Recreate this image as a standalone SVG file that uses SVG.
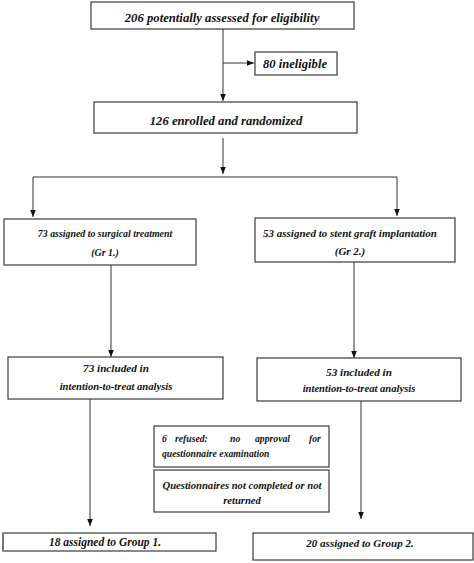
<svg xmlns="http://www.w3.org/2000/svg" width="474" height="563" viewBox="0 0 474 563">
<style>
  .box { fill: #ffffff; stroke: #3a3a3a; stroke-width: 1.2; }
  .t { font-family: "Liberation Serif", "Times New Roman", serif; font-weight: bold; font-style: italic; fill: #111111; text-anchor: middle; }
  .s { text-anchor: start; }
  .ln { fill: none; stroke: #333333; stroke-width: 1; }
  .ar { fill: none; stroke: #333333; stroke-width: 1; marker-end: url(#ah); }
</style>
<defs>
  <marker id="ah" viewBox="0 0 10 10" refX="10" refY="5" markerWidth="7" markerHeight="7" markerUnits="userSpaceOnUse" orient="auto">
    <path d="M0,1 L10,5 L0,9 z" fill="#111111"/>
  </marker>
</defs>
<rect width="474" height="563" fill="#ffffff"/>

<g id="connectors">
  <path class="ar" d="M223,29 V101"/>
  <path class="ar" d="M223,63 H254"/>
  <path class="ar" d="M223,138 V174"/>
  <path class="ln" d="M33,177 H397"/>
  <path class="ar" d="M33,177 V217"/>
  <path class="ar" d="M397,177 V216"/>
  <path class="ar" d="M111,265 V357"/>
  <path class="ar" d="M354,262 V358"/>
  <path class="ar" d="M90,399 V526"/>
  <path class="ar" d="M361,401 V519"/>
</g>

<g id="n1">
  <rect class="box" x="91" y="2" width="263" height="27"/>
  <text class="t" x="222" y="22" font-size="12.7">206 potentially assessed for eligibility</text>
</g>
<g id="n2">
  <rect class="box" x="255" y="52" width="82" height="23"/>
  <text class="t" x="295" y="68" font-size="12.6">80 ineligible</text>
</g>
<g id="n3">
  <rect class="box" x="94" y="102" width="263" height="31"/>
  <text class="t" x="226" y="125" font-size="12.7">126 enrolled and randomized</text>
</g>
<g id="n4">
  <rect class="box" x="4" y="219" width="192" height="46"/>
  <text class="t" x="105" y="237" font-size="9.9">73 assigned to surgical treatment</text>
  <text class="t" x="105" y="256" font-size="9.9">(Gr 1.)</text>
</g>
<g id="n5">
  <rect class="box" x="255" y="218" width="200" height="44"/>
  <text class="t" x="350" y="237" font-size="11">53 assigned to stent graft implantation</text>
  <text class="t" x="350" y="255" font-size="11">(Gr 2.)</text>
</g>
<g id="n6">
  <rect class="box" x="8" y="357" width="215" height="42"/>
  <text class="t" x="116" y="372" font-size="11.2">73 included in</text>
  <text class="t" x="116" y="390" font-size="10.6">intention-to-treat analysis</text>
</g>
<g id="n7">
  <rect class="box" x="257" y="358" width="204" height="43"/>
  <text class="t" x="359" y="376" font-size="11.2">53 included in</text>
  <text class="t" x="359" y="392" font-size="10.6">intention-to-treat analysis</text>
</g>
<g id="n8">
  <rect class="box" x="154" y="426" width="175" height="41"/>
  <text class="t s" y="442" font-size="9.7"><tspan x="162">6</tspan> <tspan x="175">refused:</tspan> <tspan x="230">no</tspan> <tspan x="255">approval</tspan> <tspan x="309">for</tspan></text>
  <text class="t s" x="162" y="457" font-size="9.7">questionnaire examination</text>
</g>
<g id="n9">
  <rect class="box" x="154" y="470" width="175" height="42"/>
  <text class="t" x="242" y="489" font-size="10.6">Questionnaires not completed or not</text>
  <text class="t" x="242" y="504" font-size="10.6">returned</text>
</g>
<g id="n10">
  <rect class="box" x="3" y="533" width="213" height="18"/>
  <rect x="2" y="533" width="2" height="18" fill="#777777"/>
  <text class="t" x="105" y="546" font-size="11.5">18 assigned to Group 1.</text>
</g>
<g id="n11">
  <rect class="box" x="253" y="533" width="220" height="27"/>
  <text class="t" x="360" y="547" font-size="11">20 assigned to Group 2.</text>
</g>
</svg>
